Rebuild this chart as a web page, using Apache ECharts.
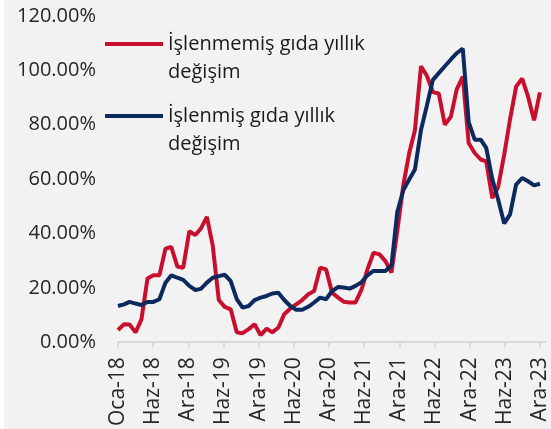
<!DOCTYPE html>
<html>
<head>
<meta charset="utf-8">
<script src="https://cdn.jsdelivr.net/npm/echarts@6/dist/echarts.min.js"></script>
<style>
  html, body { margin: 0; padding: 0; background: #fff; }
  #chart { position: absolute; left: 4px; top: 0; width: 547px; height: 429px; }
</style>
</head>
<body>
<div id="chart"></div>
<script>
var chart = echarts.init(document.getElementById('chart'));

// aylar (Oca-18 .. Ara-23)
var months = [
    '2018-01','2018-02','2018-03','2018-04','2018-05','2018-06','2018-07','2018-08','2018-09','2018-10','2018-11','2018-12',
    '2019-01','2019-02','2019-03','2019-04','2019-05','2019-06','2019-07','2019-08','2019-09','2019-10','2019-11','2019-12',
    '2020-01','2020-02','2020-03','2020-04','2020-05','2020-06','2020-07','2020-08','2020-09','2020-10','2020-11','2020-12',
    '2021-01','2021-02','2021-03','2021-04','2021-05','2021-06','2021-07','2021-08','2021-09','2021-10','2021-11','2021-12',
    '2022-01','2022-02','2022-03','2022-04','2022-05','2022-06','2022-07','2022-08','2022-09','2022-10','2022-11','2022-12',
    '2023-01','2023-02','2023-03','2023-04','2023-05','2023-06','2023-07','2023-08','2023-09','2023-10','2023-11','2023-12'
];

// İşlenmemiş gıda yıllık değişim (%)
var unprocessed = [
    4.5, 6.6, 6.5, 3.6, 8.4, 23.4, 24.6, 24.6, 34.4, 35.0, 27.8, 27.4,
    40.8, 39.4, 41.8, 46.1, 35.5, 15.5, 13.0, 12.1, 3.6, 3.3, 4.8, 6.6,
    2.6, 5.0, 3.6, 5.4, 10.3, 12.4, 13.9, 15.5, 17.6, 18.8, 27.4, 26.8,
    18.2, 16.4, 14.9, 14.6, 14.6, 19.4, 26.8, 32.9, 32.3, 29.8, 25.6, 41.0,
    58.0, 70.0, 78.0, 101.5, 98.0, 92.0, 91.5, 80.0, 83.0, 93.0, 97.7, 73.3,
    69.6, 67.2, 66.5, 53.0, 57.0, 69.0, 82.0, 94.0, 97.0, 90.4, 81.6, 91.9
];

// İşlenmiş gıda yıllık değişim (%)
var processed = [
    13.3, 13.9, 14.8, 14.2, 13.7, 14.8, 14.8, 15.8, 21.9, 24.6, 23.7, 22.9,
    20.7, 19.2, 19.6, 21.9, 23.7, 24.3, 24.8, 22.5, 15.8, 12.7, 13.3, 15.5,
    16.4, 17.0, 17.9, 18.2, 15.5, 13.3, 11.9, 11.9, 13.0, 14.6, 16.4, 15.8,
    18.8, 20.3, 20.1, 19.7, 20.7, 22.1, 24.6, 26.2, 26.2, 26.2, 28.3, 48.0,
    56.0, 60.0, 63.5, 78.0, 87.0, 96.5, 99.0, 101.5, 104.0, 106.3, 108.0, 81.0,
    74.5, 74.5, 71.5, 60.0, 52.5, 43.7, 47.0, 58.0, 60.4, 59.2, 57.7, 58.3
];

// eksen etiketleri (180 günde bir)
var xTickLabels = ['Oca-18','Haz-18','Ara-18','Haz-19','Ara-19','Haz-20','Ara-20',
                   'Haz-21','Ara-21','Haz-22','Ara-22','Haz-23','Ara-23'];
var seriesNames = ['İşlenmemiş gıda yıllık değişim', 'İşlenmiş gıda yıllık değişim'];
var colors = ['#c8102e', '#0c2a5e'];

var DAY = 86400000;
var start = Date.UTC(2018, 0, 1);
function dayOf(m) {
    var p = m.split('-');
    return Math.round((Date.UTC(+p[0], +p[1] - 1, 1) - start) / DAY);
}
function toPairs(vals) {
    return months.map(function (m, i) { return [dayOf(m), vals[i]]; });
}

var font = 'Open Sans';

chart.setOption({
    backgroundColor: '#f2f2f2',
    animation: false,
    color: colors,
    grid: {
        left: 114,
        right: 5,
        top: 16,
        bottom: 86
    },
    legend: {
        orient: 'vertical',
        left: 101,
        top: 2,
        padding: 0,
        itemGap: -12,
        itemWidth: 58,
        itemHeight: 4,
        icon: 'rect',
        data: seriesNames,
        // boş ilk satır: çizgi ilk satırla aynı hizada dursun
        formatter: function (name) {
            return ' \n' + name.replace(' değişim', '\ndeğişim');
        },
        textStyle: {
            fontFamily: font,
            fontSize: 20,
            color: '#1a1a1a',
            lineHeight: 28
        }
    },
    xAxis: {
        type: 'value',
        min: 0,
        max: 2191,
        interval: 180,
        splitLine: { show: false },
        axisLine: { show: true, lineStyle: { color: '#d9d9d9', width: 2 } },
        axisTick: { show: true, length: 5, lineStyle: { color: '#d9d9d9', width: 2 } },
        axisLabel: {
            rotate: 90,
            margin: 15,
            fontFamily: font,
            fontSize: 21,
            color: '#262626',
            showMaxLabel: false,
            formatter: function (v) {
                var k = v / 180;
                return Math.abs(k - Math.round(k)) < 1e-6 ? (xTickLabels[Math.round(k)] || '') : '';
            }
        }
    },
    yAxis: {
        type: 'value',
        min: 0,
        max: 120,
        interval: 20,
        splitLine: { show: false },
        axisLine: { show: false },
        axisTick: { show: false },
        axisLabel: {
            margin: 22,
            fontFamily: font,
            fontSize: 20,
            color: '#262626',
            formatter: function (v) { return v.toFixed(2) + '%'; }
        }
    },
    series: [
        {
            name: seriesNames[0],
            type: 'line',
            data: toPairs(unprocessed),
            symbol: 'none',
            lineStyle: { width: 4, color: colors[0] }
        },
        {
            name: seriesNames[1],
            type: 'line',
            data: toPairs(processed),
            symbol: 'none',
            lineStyle: { width: 4, color: colors[1] }
        }
    ]
});

window.addEventListener('resize', function () {
    chart.resize();
});
</script>
</body>
</html>
